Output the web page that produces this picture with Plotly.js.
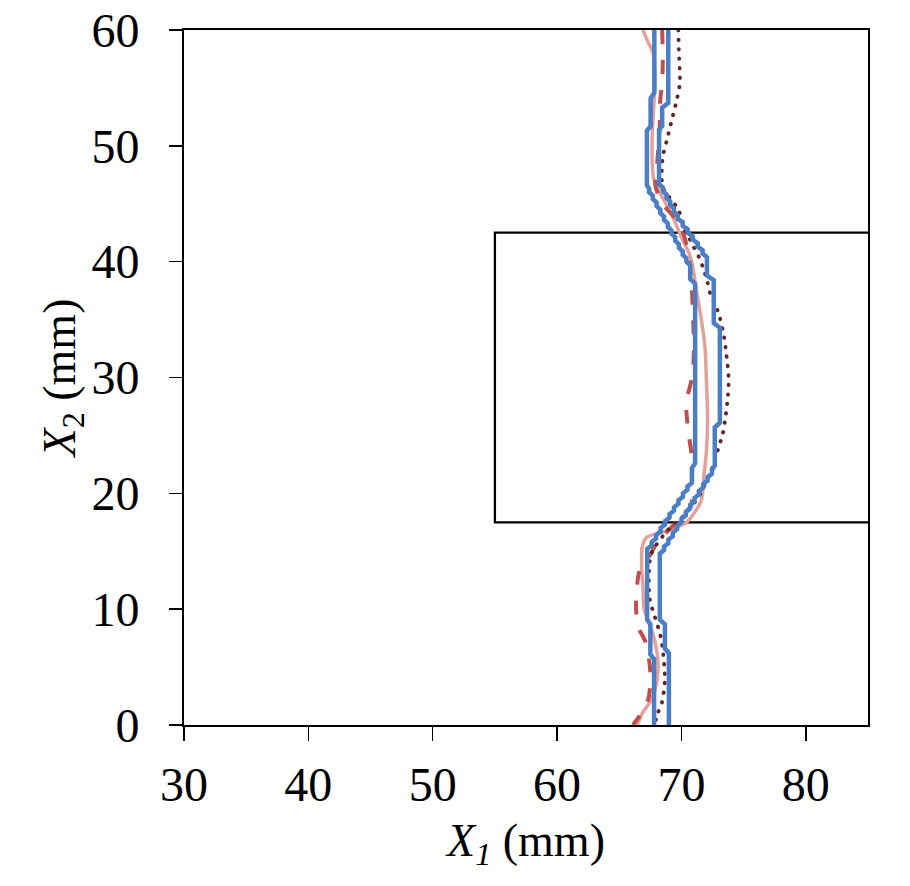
<!DOCTYPE html>
<html>
<head>
<meta charset="utf-8">
<script src="https://cdn.plot.ly/plotly-3.0.1.min.js"></script>
<style>
  html, body { margin: 0; padding: 0; background: #ffffff; }
  #chart { width: 910px; height: 886px; }
  .tracedots .js-line { stroke-linecap: round; }
</style>
</head>
<body>
<div id="chart"></div>
<script>
// Inclusion outline (mm)
const rectX = [85, 55, 55, 85];
const rectY = [42.5, 42.5, 17.5, 17.5];

// Light solid profile
const pinkX = [66.9, 67.3, 67.7, 67.85, 67.85, 67.75, 67.65, 67.65, 67.8, 68.15, 68.6, 69.1, 69.5, 69.95, 70.5, 70.85, 71.2, 71.6, 71.9, 72.0, 72.1, 72.0, 71.8, 71.6, 70.4, 68.3, 67.2, 66.85, 66.8, 66.9, 67.0, 67.7, 68.1, 68.0, 67.6, 66.9, 66.45];
const pinkY = [60, 59.0, 58.1, 56.5, 55.0, 53.0, 51.0, 48.5, 47.0, 46.2, 45.3, 44.3, 43.4, 42.2, 41.0, 39.9, 37.5, 35.0, 32.5, 30.0, 26.5, 23.5, 21.5, 19.4, 17.5, 16.6, 16.2, 15.4, 13.5, 12.0, 10.0, 7.9, 5.6, 3.6, 2.2, 1.1, 0];

// Dashed profile
const dashX = [68.45, 68.5, 68.45, 68.3, 68.25, 68.05, 67.9, 68.4, 69.3, 70.0, 70.5, 70.8, 70.9, 71.0, 70.9, 70.4, 70.4, 70.6, 70.85, 70.85, 70.8, 70.3, 69.6, 68.0, 67.6, 66.6, 66.4, 66.35, 66.55, 67.1, 67.45, 67.5, 67.3, 66.7, 66.1];
const dashY = [60, 57.5, 55.5, 54.0, 51.5, 48.5, 46.6, 45.1, 44.0, 42.9, 41.0, 38.4, 36.0, 33.0, 30.2, 28.0, 27.0, 25.0, 23.0, 21.0, 19.0, 18.3, 17.5, 15.7, 14.9, 13.2, 11.5, 10.0, 8.4, 7.2, 5.2, 3.5, 2.1, 0.9, 0];

// Dotted profile
const dotX = [69.75, 69.8, 69.87, 69.63, 69.23, 68.83, 68.5, 68.42, 68.6, 69.2, 69.75, 70.27, 70.68, 71.4, 71.72, 72.1, 72.3, 72.9, 73.1, 73.4, 73.5, 73.6, 73.75, 73.8, 73.73, 73.57, 73.33, 72.93, 72.52, 71.32, 70.03, 68.91, 67.7, 67.46, 67.38, 67.46, 67.86, 68.26, 68.5, 68.67, 68.42, 68.1, 67.9];
const dotY = [60, 58.0, 55.4, 54.0, 52.25, 50.5, 49.05, 47.06, 46.2, 45.3, 44.5, 42.75, 41.9, 40.4, 39.55, 38.2, 37.3, 35.8, 35.1, 33.7, 33.0, 32.1, 30.66, 29.8, 28.3, 26.8, 25.2, 23.75, 22.3, 19.6, 17.9, 16.84, 15.1, 14.25, 12.5, 10.8, 9.33, 7.94, 6.48, 3.9, 1.9, 1.04, 0.3];

// Stepped profile, inner
const blueAX = [67.82, 67.82, 67.52, 67.52, 67.22, 67.22, 67.40, 67.40, 67.70, 67.70, 68.00, 68.00, 68.30, 68.30, 68.60, 68.60, 68.90, 68.90, 69.20, 69.20, 69.50, 69.50, 69.80, 69.80, 70.10, 70.10, 70.40, 70.40, 70.70, 70.70, 71.10, 71.10, 70.84, 70.84, 70.48, 70.48, 70.12, 70.12, 69.76, 69.76, 69.40, 69.40, 69.04, 69.04, 68.68, 68.68, 68.32, 68.32, 67.96, 67.96, 67.60, 67.60, 67.24, 67.24, 67.50, 67.50, 67.80, 67.80];
const blueAY = [60, 54.6, 54.1, 51.7, 51.3, 46.6, 46.3, 46.0, 45.7, 45.4, 45.1, 44.8, 44.5, 44.2, 43.9, 43.6, 43.3, 43.0, 42.7, 42.4, 42.1, 41.8, 41.5, 41.2, 40.9, 40.6, 40.3, 40.0, 39.7, 38.5, 38.1, 22.6, 22.2, 20.9, 20.6, 20.3, 20.0, 19.7, 19.4, 19.1, 18.8, 18.5, 18.2, 17.9, 17.6, 17.3, 17.0, 16.7, 16.4, 16.1, 15.8, 15.5, 15.2, 9.1, 8.7, 6.1, 5.7, 0];

// Stepped profile, outer
const blueBX = [68.94, 68.94, 68.45, 68.45, 68.20, 68.20, 68.50, 68.50, 68.80, 68.80, 69.10, 69.10, 69.40, 69.40, 69.70, 69.70, 70.10, 70.10, 70.50, 70.50, 70.90, 70.90, 71.30, 71.30, 71.70, 71.70, 72.05, 72.05, 72.60, 72.60, 73.09, 73.09, 72.68, 72.68, 72.45, 72.45, 72.10, 72.10, 71.75, 71.75, 71.40, 71.40, 71.05, 71.05, 70.70, 70.70, 70.35, 70.35, 70.00, 70.00, 69.65, 69.65, 69.30, 69.30, 68.95, 68.95, 68.60, 68.60, 68.26, 68.26, 68.67, 68.67, 68.99, 68.99];
const blueBY = [60, 53.7, 53.3, 51.7, 51.4, 46.7, 46.4, 46.1, 45.8, 45.5, 45.2, 44.9, 44.6, 44.3, 44.0, 43.7, 43.4, 43.1, 42.8, 42.5, 42.2, 41.9, 41.6, 41.3, 41.0, 40.7, 40.4, 38.8, 38.4, 34.7, 34.3, 26.1, 25.7, 22.4, 22.0, 21.7, 21.4, 21.1, 20.8, 20.5, 20.2, 19.9, 19.6, 19.3, 19.0, 18.7, 18.4, 18.1, 17.8, 17.5, 17.2, 16.9, 16.6, 16.3, 16.0, 15.7, 15.4, 15.1, 14.8, 9.1, 8.7, 6.6, 6.2, 0];

const xTicks = [30, 40, 50, 60, 70, 80];
const yTicks = [0, 10, 20, 30, 40, 50, 60];

const FONT = '"Liberation Serif", "Times New Roman", serif';

const traces = [
  { x: rectX, y: rectY, mode: 'lines', line: { color: '#000000', width: 2.3 }, hoverinfo: 'skip' },
  { x: pinkX, y: pinkY, mode: 'lines', line: { color: '#E3A19C', width: 3.5, shape: 'spline', smoothing: 0.7 } },
  { x: dashX, y: dashY, mode: 'lines', line: { color: '#C0504D', width: 4, shape: 'spline', smoothing: 0.7, dash: '14px,16px' } },
  { x: dotX, y: dotY, uid: 'dots', mode: 'lines', line: { color: '#632523', width: 3.8, shape: 'spline', smoothing: 0.7, dash: '0.5px,9px' } },
  { x: blueAX, y: blueAY, mode: 'lines', line: { color: '#4A7EC6', width: 4.5 } },
  { x: blueBX, y: blueBY, mode: 'lines', line: { color: '#4A7EC6', width: 4.5 } }
];

const layout = {
  width: 910,
  height: 886,
  margin: { l: 184, r: 42, t: 30, b: 161, pad: 0 },
  paper_bgcolor: '#ffffff',
  plot_bgcolor: '#ffffff',
  showlegend: false,
  font: { family: FONT, size: 48, color: '#000000' },
  xaxis: {
    range: [30, 85],
    tickvals: xTicks,
    ticktext: xTicks.map(String),
    ticks: 'outside',
    ticklen: 14,
    tickwidth: 1.5,
    tickcolor: '#000000',
    ticklabelstandoff: 2,
    showline: true,
    linecolor: '#000000',
    linewidth: 2,
    mirror: true,
    showgrid: false,
    zeroline: false,
    title: { text: '<i>X<sub>1</sub></i> (mm)', font: { family: FONT, size: 46 }, standoff: 14 }
  },
  yaxis: {
    range: [0, 60],
    tickvals: yTicks,
    ticktext: yTicks.map(String),
    ticks: 'outside',
    ticklen: 13,
    tickwidth: 1.5,
    tickcolor: '#000000',
    ticklabelstandoff: 20,
    showline: true,
    linecolor: '#000000',
    linewidth: 2,
    mirror: true,
    showgrid: false,
    zeroline: false,
    title: { text: '<i>X</i><sub>2</sub> (mm)', font: { family: FONT, size: 46 }, standoff: 0 }
  }
};

Plotly.newPlot('chart', traces, layout, { staticPlot: true, displayModeBar: false }).then(function () {
  document.querySelectorAll('.tracedots path.js-line').forEach(function (p) {
    p.style.strokeLinecap = 'round';
  });
});
</script>
</body>
</html>
